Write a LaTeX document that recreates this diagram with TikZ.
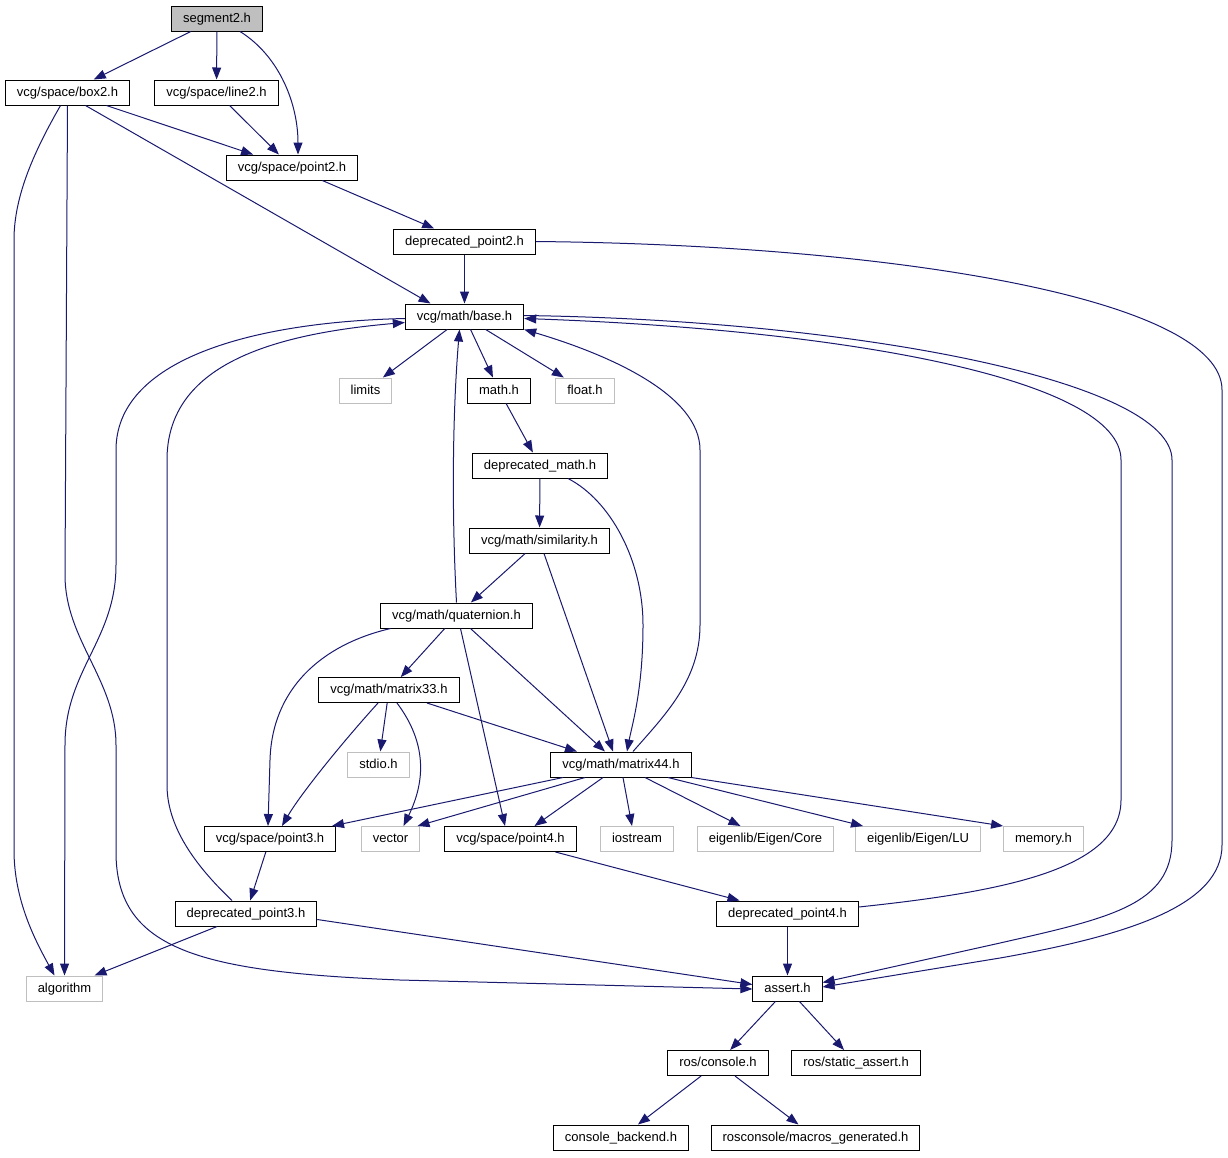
\documentclass[tikz,border=0pt]{standalone}
\usepackage{fontspec}
\setmainfont{Liberation Sans}
\usetikzlibrary{arrows.meta}
\definecolor{edgeblue}{HTML}{191970}
\definecolor{lightgrey}{HTML}{BFBFBF}

\begin{document}
\begin{tikzpicture}[x=1pt,y=-1pt]
\tikzstyle{hfile}=[draw=black,line width=1pt,fill=white,minimum height=25pt,inner xsep=11.5pt,inner ysep=0pt,text height=9.5pt,text depth=2.5pt,font=\fontsize{13}{15}\selectfont]
\tikzstyle{sysfile}=[hfile,draw=lightgrey]
\tikzstyle{rootfile}=[hfile,fill=lightgrey]
\tikzstyle{dep}=[draw=edgeblue,line width=1pt,-{Triangle[length=12pt,width=9pt]}]
\useasboundingbox [fill=white] (0,0) rectangle (1228,1157);

\node [rootfile] at (217,18.5) (seg) {segment2.h};
\node [hfile] at (67.5,92.5) (box) {vcg/space/box2.h};
\node [hfile] at (216.5,92.5) (line) {vcg/space/line2.h};
\node [hfile] at (292,167.5) (pt2) {vcg/space/point2.h};
\node [hfile] at (464.5,241.5) (dpt2) {deprecated\_point2.h};
\node [hfile] at (464.5,316.5) (base) {vcg/math/base.h};
\node [sysfile] at (365.5,390.5) (limits) {limits};
\node [hfile] at (499,390.5) (mathh) {math.h};
\node [sysfile] at (585,390.5) (float) {float.h};
\node [hfile] at (540,465.5) (dmath) {deprecated\_math.h};
\node [hfile] at (539.5,540.5) (sim) {vcg/math/similarity.h};
\node [hfile] at (456.5,615.5) (quat) {vcg/math/quaternion.h};
\node [hfile] at (389,690) (mat33) {vcg/math/matrix33.h};
\node [sysfile] at (378.5,764.5) (stdio) {stdio.h};
\node [hfile] at (621,764.5) (mat44) {vcg/math/matrix44.h};
\node [hfile] at (270,839) (pt3) {vcg/space/point3.h};
\node [sysfile] at (390.5,839) (vector) {vector};
\node [hfile] at (510.5,839) (pt4) {vcg/space/point4.h};
\node [sysfile] at (637,839) (iostream) {iostream};
\node [sysfile] at (765.5,839) (core) {eigenlib/Eigen/Core};
\node [sysfile] at (918,839) (lu) {eigenlib/Eigen/LU};
\node [sysfile] at (1043.5,839) (memory) {memory.h};
\node [hfile] at (246,913.5) (dpt3) {deprecated\_point3.h};
\node [hfile] at (787.5,913.5) (dpt4) {deprecated\_point4.h};
\node [sysfile] at (64.5,988.5) (algo) {algorithm};
\node [hfile] at (787.5,988.5) (assert) {assert.h};
\node [hfile] at (718,1063) (console) {ros/console.h};
\node [hfile] at (856,1063) (static) {ros/static\_assert.h};
\node [hfile] at (621,1137.5) (backend) {console\_backend.h};
\node [hfile] at (815.5,1137.5) (macros) {rosconsole/macros\_generated.h};

% segment2.h
\draw [dep] (seg) -- (box);
\draw [dep] (seg) -- (line);
\draw [dep] ([xshift=23pt]seg.south) .. controls +(40,25) and +(0,-50) .. ([xshift=6pt]pt2.north);
% box2.h
\draw [dep] (box) -- (pt2);
\draw [dep] ([xshift=18pt]box.south) -- ([xshift=-34pt]base.north);
\draw [dep] ([xshift=-7pt]box.south) .. controls (35,150) and (14,195) .. (14,240) -- (14,850) .. controls (14,900) and (35,940) .. ([xshift=-10pt]algo.north);
\draw [dep] (box.south) -- (65,575) .. controls (65,640) and (116,680) .. (116,745) -- (116,855) .. controls (118,950) and (200,972) .. (400,980) -- ([yshift=-0.5pt]assert.west);
\draw [dep] (line) -- (pt2);
\draw [dep] (pt2) -- (dpt2);
% deprecated_point2.h
\draw [dep] (dpt2) -- (base);
\draw [dep] (dpt2.east) .. controls (900,245) and (1222,300) .. (1222,390) -- (1222,845) .. controls (1222,905) and (1130,935) .. (1000,958) -- ([yshift=1.5pt]assert.east);
% base.h
\draw [dep] (base) -- (limits);
\draw [dep] (base) -- (mathh);
\draw [dep] (base) -- (float);
\draw [dep] ([yshift=-2pt]base.west) .. controls (250,322) and (116,360) .. (116,450) -- (116,565) .. controls (116,640) and (65,670) .. (65,745) -- (algo.north);
\draw [dep] ([yshift=1pt]base.east) .. controls (850,320) and (1172,380) .. (1172,460) -- (1172,840) .. controls (1172,905) and (1110,918) .. (1000,943) -- ([yshift=6pt]assert.east);
% math
\draw [dep] (mathh) -- (dmath);
\draw [dep] (dmath) -- (sim);
\draw [dep] ([xshift=28pt]dmath.south) .. controls (610,500) and (643,560) .. (643,625) .. controls (643,690) and (632,725) .. ([xshift=6pt]mat44.north);
\draw [dep] (sim) -- (quat);
\draw [dep] ([xshift=4.5pt]sim.south) -- ([xshift=-8pt]mat44.north);
% quaternion.h
\draw [dep] (quat.north) .. controls (452,520) and (452,420) .. ([xshift=-5pt]base.south);
\draw [dep] (quat) -- (mat33);
\draw [dep] ([xshift=-66pt]quat.south) .. controls (320,645) and (272,690) .. (270,760) -- ([xshift=-2pt]pt3.north);
\draw [dep] ([xshift=4pt]quat.south) -- ([xshift=-5.5pt]pt4.north);
\draw [dep] ([xshift=14pt]quat.south) -- ([xshift=-16pt]mat44.north);
% matrix33.h
\draw [dep] (mat33) -- (stdio);
\draw [dep] ([xshift=8pt]mat33.south) .. controls +(30,40) and +(22,-45) .. ([xshift=13pt]vector.north);
\draw [dep] ([xshift=-11pt]mat33.south) .. controls (340,745) and (300,795) .. ([xshift=12pt]pt3.north);
\draw [dep] ([xshift=38pt]mat33.south) -- ([xshift=-44pt]mat44.north);
% matrix44.h
\draw [dep] ([xshift=12pt]mat44.north) .. controls (665,715) and (700,680) .. (700,625) -- (700,450) .. controls (700,395) and (610,355) .. (base.south east);
\draw [dep] ([xshift=-58pt]mat44.south) -- ([xshift=62pt]pt3.north);
\draw [dep] ([xshift=-36pt]mat44.south) -- ([xshift=27pt]vector.north);
\draw [dep] ([xshift=-18pt]mat44.south) -- ([xshift=24pt]pt4.north);
\draw [dep] ([xshift=2pt]mat44.south) -- ([xshift=-5pt]iostream.north);
\draw [dep] ([xshift=24pt]mat44.south) -- ([xshift=-25pt]core.north);
\draw [dep] ([xshift=47pt]mat44.south) -- ([xshift=-55pt]lu.north);
\draw [dep] (mat44.south east) -- (memory.north west);
% point3.h, point4.h
\draw [dep] (pt3) -- (dpt3);
\draw [dep] ([xshift=45pt]pt4.south) -- ([xshift=-48pt]dpt4.north);
\draw [dep] ([xshift=-14pt]dpt3.north) .. controls (200,870) and (167,830) .. (167,785) -- (167,460) .. controls (167,370) and (260,335) .. ([yshift=-6pt]base.west);
\draw [dep] ([xshift=-29pt]dpt3.south) -- ([xshift=30pt]algo.north);
\draw [dep] ([yshift=-6pt]dpt3.east) -- ([yshift=4pt]assert.west);
\draw [dep] ([yshift=6.5pt]dpt4.east) .. controls (1000,892) and (1121,870) .. (1121,800) -- (1121,460) .. controls (1121,380) and (850,330) .. ([yshift=-2pt]base.east);
\draw [dep] (dpt4) -- (assert);
% assert.h
\draw [dep] (assert) -- (console);
\draw [dep] (assert) -- (static);
\draw [dep] (console) -- (backend);
\draw [dep] (console) -- (macros);
\end{tikzpicture}
\end{document}
